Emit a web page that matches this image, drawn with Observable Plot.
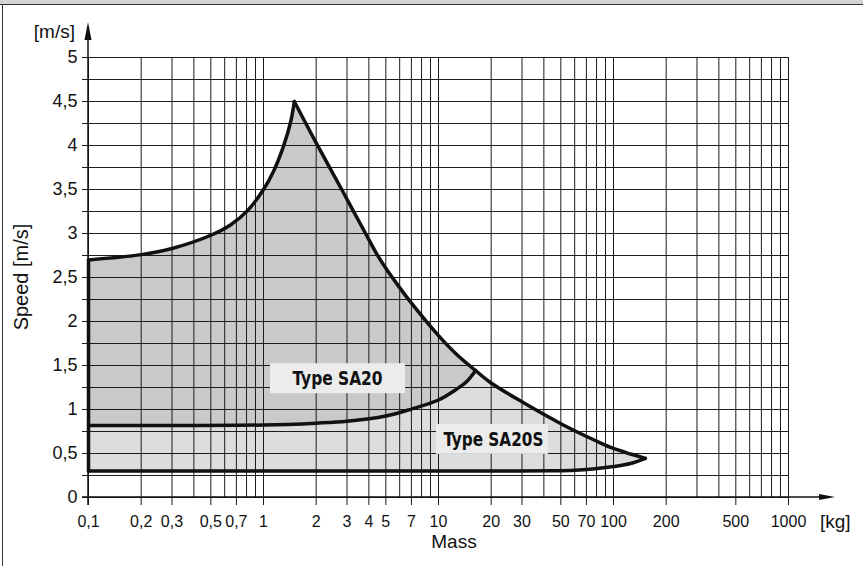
<!DOCTYPE html>
<html><head><meta charset="utf-8">
<script src="https://cdn.jsdelivr.net/npm/d3@7"></script>
<script src="https://cdn.jsdelivr.net/npm/@observablehq/plot@0.6"></script>
<style>
html,body{margin:0;padding:0;background:#fff;}
#wrap{position:relative;width:863px;height:566px;overflow:hidden;background:#fff;}
#chart svg{display:block;}
#topband{position:absolute;left:0;top:0;width:863px;height:4px;background:#d4d4d4;border-bottom:1px solid #333;}
#leftline{position:absolute;left:2px;top:4px;width:1px;height:562px;background:#333;}
</style></head><body>
<div id="wrap"><div id="chart"></div><div id="topband"></div><div id="leftline"></div></div>
<script>
// ---- data (mass in kg, speed in m/s) ----
// upper envelope, rising part (0.1 kg -> peak)
const riseMass  = [0.1, 0.2, 0.3, 0.5, 0.65, 0.81, 1.0, 1.14, 1.30, 1.43, 1.5];
const riseSpeed = [2.70, 2.76, 2.83, 2.98, 3.10, 3.26, 3.50, 3.705, 3.99, 4.27, 4.50];
// upper envelope, falling part (peak -> junction with SA20 lower curve)
const fallMass  = [1.5, 2.0, 2.87, 3.83, 4.4, 5.0, 5.9, 6.9, 10, 12.8, 16.3];
const fallSpeed = [4.50, 4.03, 3.46, 3.00, 2.78, 2.605, 2.405, 2.225, 1.84, 1.62, 1.443];
// SA20S upper boundary (junction -> tip)
const tailMass  = [16.3, 19.8, 29.8, 51, 81, 100, 125, 152];
const tailSpeed = [1.443, 1.307, 1.09, 0.83, 0.636, 0.557, 0.494, 0.445];
// SA20 lower boundary
const midMass  = [0.1, 1, 2, 3, 5, 7, 10, 12.5, 14.5, 16.3];
const midSpeed = [0.818, 0.824, 0.845, 0.866, 0.926, 1.005, 1.108, 1.222, 1.318, 1.443];
// SA20S lower boundary
const baseMass  = [0.1, 1, 10, 28, 45, 60, 76, 100, 125, 152];
const baseSpeed = [0.30, 0.30, 0.30, 0.301, 0.303, 0.309, 0.324, 0.352, 0.386, 0.445];
// left edge
const edgeMass  = [0.1, 0.1];
const edgeSpeed = [0.30, 2.70];

// grid & ticks
const xGrid = [0.1,0.2,0.3,0.4,0.5,0.6,0.7,0.8,0.9,1,2,3,4,5,6,7,8,9,10,20,30,40,50,60,70,80,90,100,200,300,400,500,600,700,800,900,1000];
const xTicks = [0.1,0.2,0.3,0.5,0.7,1,2,3,4,5,7,10,20,30,50,70,100,200,500,1000];
const yGrid = [0,0.25,0.5,0.75,1,1.25,1.5,1.75,2,2.25,2.5,2.75,3,3.25,3.5,3.75,4,4.25,4.5,4.75,5];

// labels
const labelText  = ["Type SA20", "Type SA20S"];
const labelMass  = [2.65, 20.6];
const labelSpeed = [1.35, 0.655];
const boxMass1 = [1.096, 9.75];
const boxMass2 = [6.48, 42.5];
const boxSpeed1 = [1.18, 0.49];
const boxSpeed2 = [1.52, 0.83];
const labelWidthPx = [90, 100];

// ---- build tables ----
const pts = (ms, vs) => ms.map((m, i) => ({m, v: vs[i]}));
const rise = pts(riseMass, riseSpeed), fall = pts(fallMass, fallSpeed), tail = pts(tailMass, tailSpeed);
const mid = pts(midMass, midSpeed), base = pts(baseMass, baseSpeed), edge = pts(edgeMass, edgeSpeed);
const darkPoly = [...mid, ...fall.slice().reverse(), ...rise.slice().reverse()];
const lightPoly = [...base, ...tail.slice().reverse(), ...mid.slice().reverse()];
const labels = labelText.map((t, i) => ({t, m: labelMass[i], v: labelSpeed[i], x1: boxMass1[i], x2: boxMass2[i], y1: boxSpeed1[i], y2: boxSpeed2[i]}));

const fmt = d => String(d).replace(".", ",");
const DARK = "#c8c9cb", LIGHT = "#dcdddf", BOX = "#ebeceb", GRID = "#1c1c1c", INK = "#111";
const SW = 3.5;
const FONT = "'Liberation Sans', Arial, Helvetica, sans-serif";
const curveMark = data => Plot.line(data, {x: "m", y: "v", stroke: INK, strokeWidth: SW, curve: "catmull-rom", strokeLinejoin: "round"});

const chart = Plot.plot({
  width: 863, height: 566,
  marginLeft: 88, marginRight: 75, marginTop: 57, marginBottom: 69,
  x: {type: "log", domain: [0.1, 1000]},
  y: {domain: [0, 5]},
  style: {fontFamily: FONT, fontSize: "16px", color: INK, background: "transparent", overflow: "visible"},
  marks: [
    Plot.line(lightPoly, {x: "m", y: "v", fill: LIGHT, stroke: "none"}),
    Plot.line(darkPoly, {x: "m", y: "v", fill: DARK, stroke: "none"}),
    Plot.ruleX(xGrid, {stroke: GRID, strokeWidth: 1}),
    Plot.ruleY(yGrid, {stroke: GRID, strokeWidth: 1}),
    Plot.axisX(xTicks, {tickSize: 8, tickFormat: () => "", label: null, stroke: GRID}),
    Plot.text(xTicks, {x: d => d, text: fmt, frameAnchor: "bottom", lineAnchor: "top", dy: 18, fontSize: 16, fill: INK}),
    Plot.axisY(yGrid, {tickSize: 6, tickPadding: 5, tickFormat: d => Number.isInteger(d * 2) ? fmt(d) : "", label: null, fontSize: 18, stroke: GRID}),
    curveMark(rise), curveMark(fall), curveMark(tail), curveMark(mid), curveMark(base),
    Plot.line(edge, {x: "m", y: "v", stroke: INK, strokeWidth: SW}),
    Plot.rect(labels, {x1: "x1", x2: "x2", y1: "y1", y2: "y2", fill: BOX}),
    Plot.text(labels, {x: "m", y: "v", text: "t", fill: INK, fontSize: 20, fontWeight: "bold",
      fontFamily: "'Liberation Sans Narrow', 'DejaVu Sans Condensed', 'Roboto Condensed', 'Liberation Sans', Arial, sans-serif"})
  ]
});
document.getElementById("chart").appendChild(chart);

const svg = d3.select(chart);
// condense the type labels to the reference width
svg.selectAll("text").each(function() {
  const i = labelText.indexOf(this.textContent);
  if (i >= 0) {
    this.setAttribute("textLength", labelWidthPx[i]);
    this.setAttribute("lengthAdjust", "spacingAndGlyphs");
  }
});

// ---- axis lines, arrows and titles ----
const sx = chart.scale("x"), sy = chart.scale("y");
const X0 = sx.apply(0.1), X1 = sx.apply(1000), Y0 = sy.apply(0), Y1 = sy.apply(5);
const g = svg.append("g");
g.append("line").attr("x1", X0 - 6).attr("x2", X1 + 34).attr("y1", Y0).attr("y2", Y0).attr("stroke", INK).attr("stroke-width", 1.5);
g.append("line").attr("x1", X0).attr("x2", X0).attr("y1", Y0 + 8).attr("y2", Y1 - 20).attr("stroke", INK).attr("stroke-width", 1.5);
g.append("path").attr("d", `M${X1 + 31},${Y0 - 3}L${X1 + 47},${Y0}L${X1 + 31},${Y0 + 3}Z`).attr("fill", INK);
g.append("path").attr("d", `M${X0 - 3.5},${Y1 - 17}L${X0},${Y1 - 35}L${X0 + 3.5},${Y1 - 17}Z`).attr("fill", INK);
g.append("text").text("[m/s]").attr("x", X0 - 13).attr("y", 38).attr("text-anchor", "end").attr("font-size", 19).attr("font-family", FONT).attr("fill", INK);
g.append("text").text("[kg]").attr("x", X1 + 32).attr("y", 528).attr("text-anchor", "start").attr("font-size", 19).attr("font-family", FONT).attr("fill", INK);
g.append("text").text("Mass").attr("x", 454).attr("y", 548).attr("text-anchor", "middle").attr("font-size", 19).attr("font-family", FONT).attr("fill", INK);
g.append("text").text("Speed [m/s]").attr("transform", `translate(28,${(Y0 + Y1) / 2}) rotate(-90)`).attr("text-anchor", "middle").attr("font-size", 20).attr("font-family", FONT).attr("fill", INK);
</script>
</body></html>
